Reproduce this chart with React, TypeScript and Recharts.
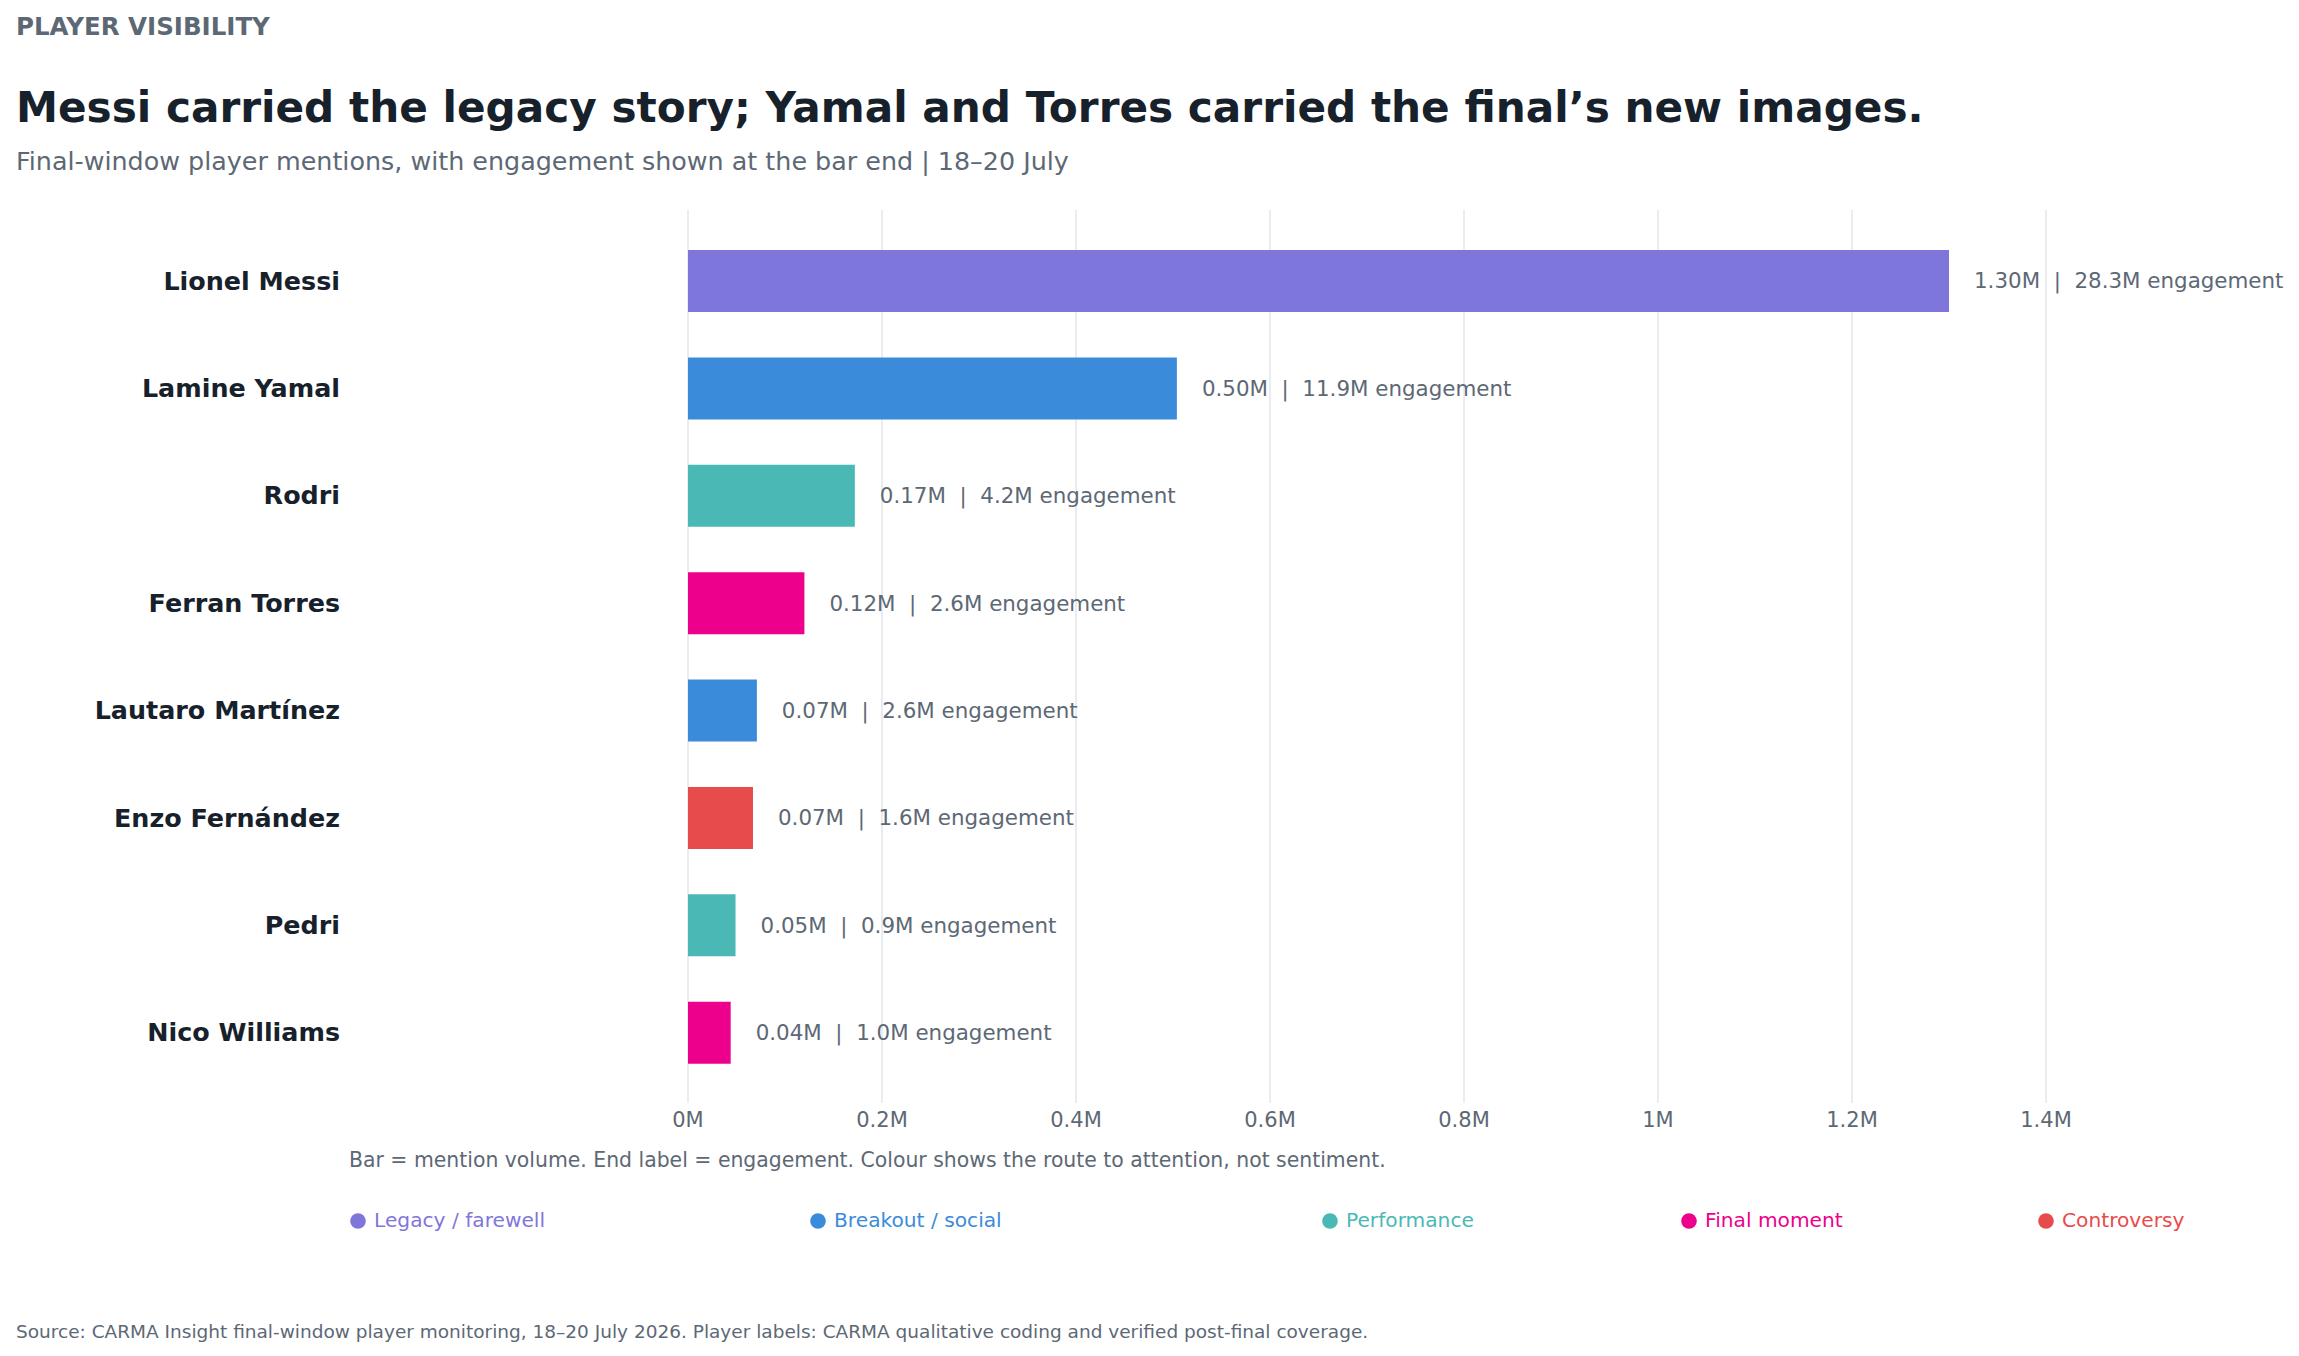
import React from "react";
import { BarChart, Bar, XAxis, YAxis, CartesianGrid, Cell, LabelList } from "recharts";

const players = ["Lionel Messi", "Lamine Yamal", "Rodri", "Ferran Torres", "Lautaro Martínez", "Enzo Fernández", "Pedri", "Nico Williams"];
const mentions = [1.3, 0.504, 0.172, 0.12, 0.071, 0.067, 0.049, 0.044];
const engagement = [28.3, 11.9, 4.2, 2.6, 2.6, 1.6, 0.9, 1.0];
const routes = ["Legacy / farewell", "Breakout / social", "Performance", "Final moment", "Breakout / social", "Controversy", "Performance", "Final moment"];

const legendLabels = ["Legacy / farewell", "Breakout / social", "Performance", "Final moment", "Controversy"];
const legendColors = ["#7f76dc", "#3b8bdb", "#4ab9b6", "#ec008c", "#e84b4b"];

const xTicks = [0, 0.2, 0.4, 0.6, 0.8, 1, 1.2, 1.4];
const xTickLabels = ["0M", "0.2M", "0.4M", "0.6M", "0.8M", "1M", "1.2M", "1.4M"];

const kicker = "PLAYER VISIBILITY";
const title = "Messi carried the legacy story; Yamal and Torres carried the final’s new images.";
const subtitle = "Final-window player mentions, with engagement shown at the bar end | 18–20 July";
const note = "Bar = mention volume. End label = engagement. Colour shows the route to attention, not sentiment.";
const source = "Source: CARMA Insight final-window player monitoring, 18–20 July 2026. Player labels: CARMA qualitative coding and verified post-final coverage.";

const DARK = "#17212b";
const GRAY = "#5d6875";
const GRID = "#e5e8ec";
const FONT = "'DejaVu Sans', sans-serif";

const colorFor = (route: string) => legendColors[legendLabels.indexOf(route)];

const data = players.map((name, i) => ({ name, mentions: mentions[i], engagement: engagement[i], route: routes[i] }));

const legendX = [350, 810, 1322, 1681, 2038];

const BarEndLabel = (props: any) => {
  const { x, y, width, height, index } = props;
  const txt = `${mentions[index].toFixed(2)}M  |  ${engagement[index].toFixed(1)}M engagement`;
  return (
    <text
      x={Number(x) + Number(width) + 25}
      y={Number(y) + Number(height) / 2}
      dy="0.35em"
      fill={GRAY}
      fontSize={21.4}
      style={{ whiteSpace: "pre", fontFamily: FONT }}
    >
      {txt}
    </text>
  );
};

export default function App() {
  return (
    <div style={{ position: "relative", width: 2283, height: 1340, fontFamily: FONT, background: "#fff" }}>
      <div style={{ position: "absolute", left: 0, top: 0 }}>
        <BarChart
          width={2283}
          height={1135}
          data={data}
          layout="vertical"
          margin={{ top: 202, right: 245, bottom: 0, left: 0 }}
        >
          <CartesianGrid horizontal={false} vertical={true} stroke={GRID} strokeWidth={1.6} />
          <XAxis
            type="number"
            domain={[0, 1.4]}
            ticks={xTicks}
            tickFormatter={(v: number, i: number) => xTickLabels[i]}
            axisLine={false}
            tickLine={false}
            tickSize={0}
            tickMargin={9}
            height={40}
            tick={{ fill: GRAY, fontSize: 21, fontFamily: FONT }}
            interval={0}
          />
          <YAxis
            type="category"
            dataKey="name"
            width={680}
            axisLine={false}
            tickLine={false}
            tickSize={0}
            tickMargin={348}
            padding={{ top: 17, bottom: 17 }}
            interval={0}
            tick={{ fill: DARK, fontSize: 25.4, fontWeight: 700, fontFamily: FONT }}
          />
          <Bar dataKey="mentions" barSize={62} isAnimationActive={false}>
            {data.map((d, i) => (
              <Cell key={i} fill={colorFor(d.route)} />
            ))}
            <LabelList dataKey="mentions" content={BarEndLabel} />
          </Bar>
        </BarChart>
      </div>
      <svg
        width={2283}
        height={1340}
        style={{ position: "absolute", left: 0, top: 0, pointerEvents: "none", fontFamily: FONT }}
      >
        <text x={8} y={27} fill={GRAY} fontSize={24.5} fontWeight={700}>{kicker}</text>
        <text x={8} y={114} fill={DARK} fontSize={42.2} fontWeight={700}>{title}</text>
        <text x={8} y={162} fill={GRAY} fontSize={25.4}>{subtitle}</text>
        <text x={341} y={1159} fill={GRAY} fontSize={20.4}>{note}</text>
        {legendLabels.map((l, i) => (
          <g key={l}>
            <circle cx={legendX[i]} cy={1213} r={7.8} fill={legendColors[i]} />
            <text x={legendX[i] + 16} y={1219} fill={legendColors[i]} fontSize={20.2}>{l}</text>
          </g>
        ))}
        <text x={8} y={1330} fill={GRAY} fontSize={18.5}>{source}</text>
      </svg>
    </div>
  );
}
